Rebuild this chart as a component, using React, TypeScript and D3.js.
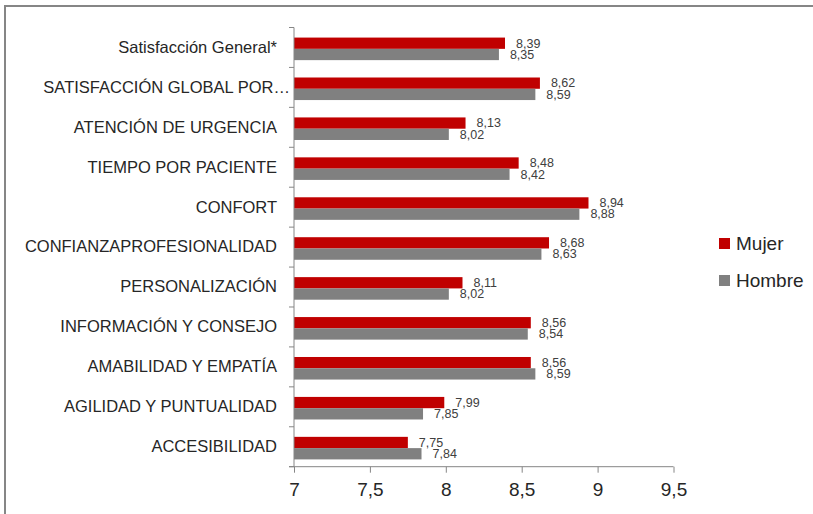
import React, { useEffect, useRef } from 'react';
import * as d3 from 'd3';

const CATEGORIES = [
  'Satisfacción General*',
  'SATISFACCIÓN GLOBAL POR…',
  'ATENCIÓN DE URGENCIA',
  'TIEMPO POR PACIENTE',
  'CONFORT',
  'CONFIANZAPROFESIONALIDAD',
  'PERSONALIZACIÓN',
  'INFORMACIÓN Y CONSEJO',
  'AMABILIDAD Y EMPATÍA',
  'AGILIDAD Y PUNTUALIDAD',
  'ACCESIBILIDAD',
];

const MUJER = [8.39, 8.62, 8.13, 8.48, 8.94, 8.68, 8.11, 8.56, 8.56, 7.99, 7.75];
const HOMBRE = [8.35, 8.59, 8.02, 8.42, 8.88, 8.63, 8.02, 8.54, 8.59, 7.85, 7.84];

const SERIES = [
  { name: 'Mujer', values: MUJER, color: '#C00000' },
  { name: 'Hombre', values: HOMBRE, color: '#808080' },
];

const X_TICKS = [7, 7.5, 8, 8.5, 9, 9.5];

const App = () => {
  const svgRef = useRef<SVGSVGElement>(null);
  const width = 813;
  const height = 514;
  const margin = { top: 27.5, right: 139.5, bottom: 47.3, left: 294 };

  useEffect(() => {
    const svg = d3.select(svgRef.current);
    svg.selectAll('*').remove();

    const font = '"Liberation Sans", Arial, sans-serif';
    const axisColor = '#868686';
    const textColor = '#262626';
    const comma = (d: number) => String(d).replace('.', ',');

    // outer frame (only top/left visible in the crop)
    svg.append('rect')
      .attr('x', 5).attr('y', 6)
      .attr('width', 900).attr('height', 600)
      .attr('fill', 'none')
      .attr('stroke', axisColor)
      .attr('stroke-width', 2);

    const x = d3.scaleLinear()
      .domain([7, 9.5])
      .range([margin.left, width - margin.right]);

    const y = d3.scaleBand()
      .domain(CATEGORIES)
      .range([margin.top, height - margin.bottom])
      .padding(0);

    const sub = d3.scaleBand()
      .domain(SERIES.map(s => s.name))
      .range([0, y.bandwidth()])
      .paddingOuter(0.77)
      .paddingInner(0)
      .align(0.58);

    // bars
    SERIES.forEach(s => {
      svg.append('g')
        .selectAll('rect')
        .data(CATEGORIES)
        .enter()
        .append('rect')
        .attr('x', x(7))
        .attr('y', (d) => y(d)! + sub(s.name)!)
        .attr('width', (d, i) => x(s.values[i]) - x(7))
        .attr('height', sub.bandwidth())
        .attr('fill', s.color);

      svg.append('g')
        .selectAll('text')
        .data(CATEGORIES)
        .enter()
        .append('text')
        .attr('x', (d, i) => x(s.values[i]) + 11)
        .attr('y', (d) => y(d)! + sub(s.name)! + sub.bandwidth() / 2 + 1)
        .attr('dominant-baseline', 'middle')
        .attr('font-family', font)
        .attr('font-size', 12.5)
        .attr('fill', '#404040')
        .text((d, i) => comma(s.values[i]));
    });

    // y axis
    const yAxis = svg.append('g');
    yAxis.append('line')
      .attr('x1', margin.left).attr('x2', margin.left)
      .attr('y1', margin.top).attr('y2', height - margin.bottom)
      .attr('stroke', axisColor);
    const bounds = CATEGORIES.map(c => y(c)!).concat([height - margin.bottom]);
    yAxis.selectAll('.ytick')
      .data(bounds)
      .enter()
      .append('line')
      .attr('x1', margin.left - 5).attr('x2', margin.left)
      .attr('y1', d => d).attr('y2', d => d)
      .attr('stroke', axisColor);
    yAxis.selectAll('.ylabel')
      .data(CATEGORIES)
      .enter()
      .append('text')
      .attr('x', (d, i) => (i === 1 ? 290 : 277))
      .attr('y', d => y(d)! + y.bandwidth() / 2 + 1)
      .attr('text-anchor', 'end')
      .attr('dominant-baseline', 'middle')
      .attr('font-family', font)
      .attr('font-size', 16.5)
      .attr('fill', textColor)
      .text(d => d);

    // x axis
    const xAxis = svg.append('g')
      .attr('transform', `translate(0,${height - margin.bottom})`)
      .call(d3.axisBottom(x).tickValues(X_TICKS).tickFormat(d => comma(+d)).tickSize(6).tickPadding(10));
    xAxis.select('.domain').remove();
    xAxis.append('line')
      .attr('x1', margin.left - 5).attr('x2', width - margin.right)
      .attr('stroke', axisColor);
    xAxis.selectAll('.tick line').attr('stroke', axisColor);
    xAxis.selectAll('.tick text')
      .attr('font-family', font)
      .attr('font-size', 19)
      .attr('fill', textColor);

    // legend
    const legend = svg.append('g').attr('transform', 'translate(719,0)');
    SERIES.forEach((s, i) => {
      const cy = 243.5 + i * 37;
      legend.append('rect')
        .attr('x', 0).attr('y', cy - 5.5)
        .attr('width', 11).attr('height', 11)
        .attr('fill', s.color);
      legend.append('text')
        .attr('x', 17).attr('y', cy + 1)
        .attr('dominant-baseline', 'middle')
        .attr('font-family', font)
        .attr('font-size', 19)
        .attr('fill', textColor)
        .text(s.name);
    });
  }, []);

  return (
    <svg
      ref={svgRef}
      width={width}
      height={height}
      style={{ position: 'absolute', left: 0, top: 0, background: '#fff' }}
    />
  );
};

export default App;
